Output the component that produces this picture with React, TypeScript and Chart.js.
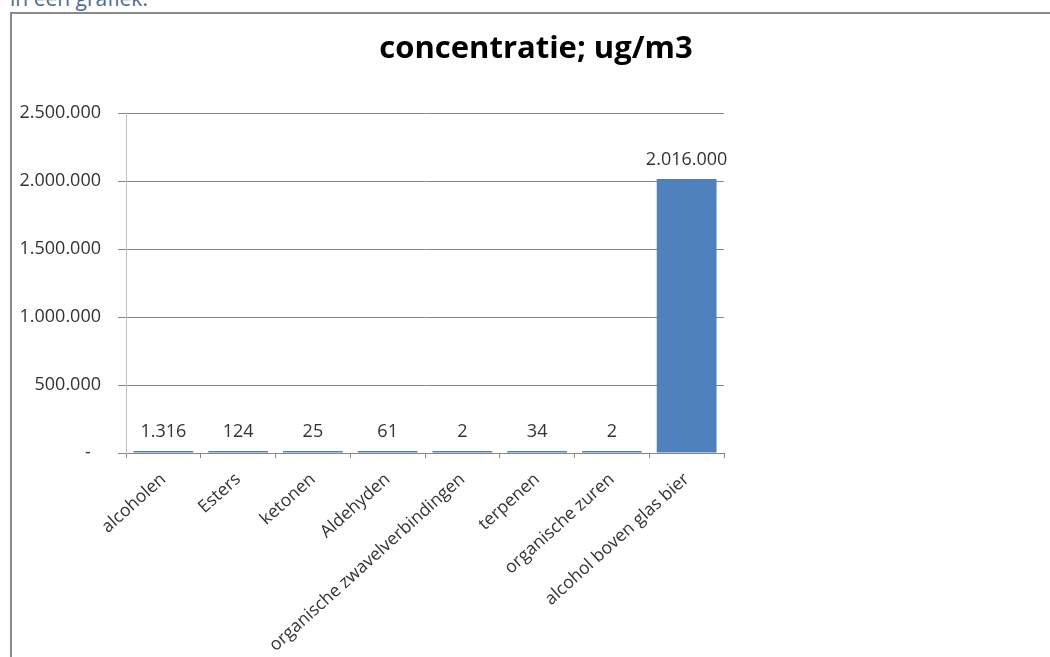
import React, { useEffect, useRef } from "react";
import { Chart, registerables } from "chart.js";

Chart.register(...registerables);

const categories = [
  "alcoholen",
  "Esters",
  "ketonen",
  "Aldehyden",
  "organische zwavelverbindingen",
  "terpenen",
  "organische zuren",
  "alcohol boven glas bier",
];
const concentration = [1316, 124, 25, 61, 2, 34, 2, 2016000];
const yMax = 2500000;
const yStep = 500000;
const titleText = "concentratie; ug/m3";
const headingText = "in een grafiek.";

const fmt = (v: number) => {
  const s = Math.round(Math.abs(v)).toString();
  return (v < 0 ? "-" : "") + s.replace(/\B(?=(\d{3})+(?!\d))/g, ".");
};

const FONT = "'Open Sans', sans-serif";

const titleShift = {
  id: "titleShift",
  afterLayout(chart: any) {
    const t = chart.titleBlock;
    if (!t) return;
    const w = t.right - t.left;
    const cx = 536;
    t.left = cx - w / 2;
    t.right = cx + w / 2;
  },
};

const valueLabels = {
  id: "valueLabels",
  afterDatasetsDraw(chart: any) {
    const ctx = chart.ctx;
    const meta = chart.getDatasetMeta(0);
    const data = chart.data.datasets[0].data as number[];
    ctx.save();
    ctx.font = `18px ${FONT}`;
    ctx.fillStyle = "#333333";
    ctx.textAlign = "center";
    ctx.textBaseline = "middle";
    meta.data.forEach((bar: any, i: number) => {
      ctx.fillText(fmt(data[i]), bar.x, bar.y - 19);
    });
    ctx.restore();
  },
};

export default function App() {
  const ref = useRef<HTMLCanvasElement>(null);
  useEffect(() => {
    if (!ref.current) return;
    const chart = new Chart(ref.current, {
      type: "bar",
      data: {
        labels: categories,
        datasets: [
          {
            data: concentration,
            backgroundColor: "#4F81BD",
            borderWidth: 0,
            barPercentage: 0.8,
            categoryPercentage: 1.0,
            minBarLength: 2,
          },
        ],
      },
      options: {
        responsive: false,
        animation: false,
        layout: { padding: { left: 0, right: 326, top: 0, bottom: 0 } },
        plugins: {
          legend: { display: false },
          tooltip: { enabled: false },
          title: {
            display: true,
            text: titleText,
            color: "#000000",
            font: { family: FONT, size: 31, weight: "bold", lineHeight: 1.2 },
            padding: { top: 31, bottom: 45 },
          },
        },
        scales: {
          x: {
            afterFit(scale: any) {
              scale.height = 204;
            },
            grid: {
              offset: true,
              drawOnChartArea: false,
              drawTicks: true,
              tickLength: 5,
              color: "#868686",
            },
            border: { display: true, color: "#868686" },
            ticks: {
              autoSkip: false,
              maxRotation: 42,
              minRotation: 42,
              padding: 11,
              color: "#333333",
              font: { family: FONT, size: 17.5 },
            },
          },
          y: {
            min: 0,
            max: yMax,
            afterFit(scale: any) {
              scale.width = 126;
            },
            grid: {
              color: "#868686",
              tickLength: 8,
            },
            border: { display: true, color: "#BFBFBF" },
            ticks: {
              stepSize: yStep,
              padding: 17,
              color: "#333333",
              font: { family: FONT, size: 18 },
              callback: (v: any) => (Number(v) === 0 ? "-\u2007" : fmt(Number(v))),
            },
          },
        },
      },
      plugins: [titleShift, valueLabels],
    });
    return () => chart.destroy();
  }, []);

  return (
    <div
      style={{
        position: "fixed",
        left: 0,
        top: 0,
        width: 1050,
        height: 657,
        overflow: "hidden",
        background: "#ffffff",
      }}
    >
      <div
        style={{
          position: "absolute",
          left: 10,
          top: -12,
          fontFamily: FONT,
          fontSize: 21,
          lineHeight: "21px",
          color: "#4e6a93",
          whiteSpace: "nowrap",
        }}
      >
        {headingText}
      </div>
      <div
        style={{
          position: "absolute",
          left: 10,
          top: 12,
          width: 1200,
          height: 800,
          border: "2px solid #8a8a8a",
        }}
      />
      <canvas
        ref={ref}
        width={1050}
        height={657}
        style={{ position: "absolute", left: 0, top: 0, width: 1050, height: 657 }}
      />
    </div>
  );
}
